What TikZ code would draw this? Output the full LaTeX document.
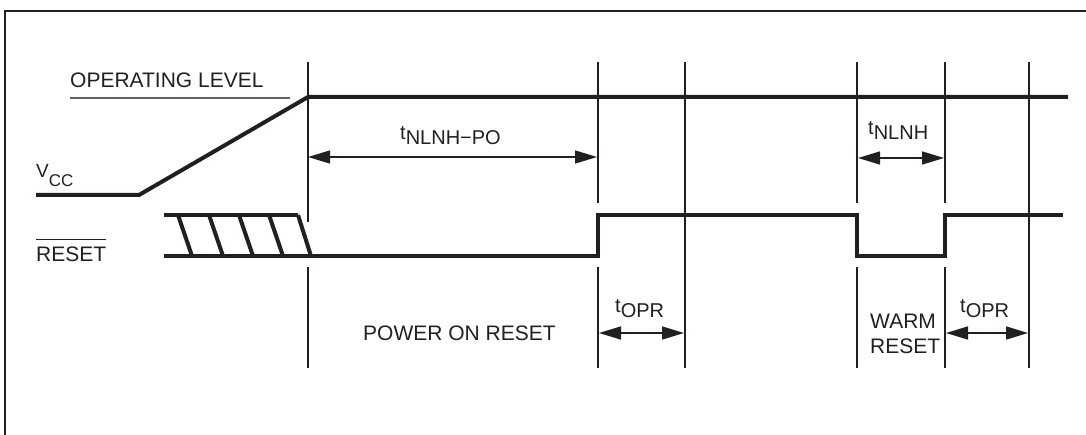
\documentclass[tikz,border=0pt]{standalone}
\usepackage{fontspec}
\setmainfont{Liberation Sans}
\usetikzlibrary{arrows.meta}
\definecolor{ink}{HTML}{231F20}
\newcommand{\tsub}[1]{\raisebox{5pt}{t}#1}
\newcommand{\ovl}[1]{{\setbox0\hbox{#1}\rlap{\rule[22pt]{\wd0}{1.3pt}}\box0}}
\begin{document}
\begin{tikzpicture}[x=1pt,y=-1pt,
  sig/.style={line width=4pt,ink,line join=miter},
  tick/.style={line width=1.8pt,ink},
  frame/.style={line width=1.8pt,ink},
  gauge/.style={line width=1.5pt,ink!70},
  dim/.style={line width=1.6pt,ink,{Triangle[length=22pt,width=13pt]}-{Triangle[length=22pt,width=13pt]}},
  lbl/.style={inner sep=0pt,anchor=base west,text=ink,font=\fontsize{21}{25}\selectfont},
  tlbl/.style={lbl,font=\fontsize{20}{24}\selectfont}]
\useasboundingbox (0,0) rectangle (1086,435);
% frame
\draw[frame] (5,435) -- (5,11) -- (1086,11);
% time markers
\coordinate (p1t) at (308,62);  \coordinate (p1a) at (308,222); \coordinate (p1b) at (308,267); \coordinate (p1e) at (308,368);
\coordinate (p2t) at (598,62);  \coordinate (p2a) at (598,203); \coordinate (p2b) at (598,267); \coordinate (p2e) at (598,368);
\coordinate (p3t) at (685,62);  \coordinate (p3e) at (685,368);
\coordinate (p4t) at (857,62);  \coordinate (p4a) at (857,203); \coordinate (p4b) at (857,267); \coordinate (p4e) at (857,368);
\coordinate (p5t) at (945,62);  \coordinate (p5a) at (945,203); \coordinate (p5b) at (945,267); \coordinate (p5e) at (945,368);
\coordinate (p6t) at (1029,62); \coordinate (p6e) at (1029,368);
\draw[tick] (p1t) -- (p1a) (p1b) -- (p1e);
\draw[tick] (p2t) -- (p2a) (p2b) -- (p2e);
\draw[tick] (p3t) -- (p3e);
\draw[tick] (p4t) -- (p4a) (p4b) -- (p4e);
\draw[tick] (p5t) -- (p5a) (p5b) -- (p5e);
\draw[tick] (p6t) -- (p6e);
% operating level
\node[lbl] (oplvl) at (70,88) {OPERATING LEVEL};
\draw[gauge] (70,98) -- (290,98);
% VCC
\node[lbl,font=\fontsize{19}{22}\selectfont] (vcc) at (36,178) {V\raisebox{-9pt}{\fontsize{17}{20}\selectfont CC}};
\draw[sig] (36,195) -- (139,195) -- (308,97) -- (1068,97);
% RESET
\node[lbl] (rst) at (36,262) {\ovl{RESET}};
\draw[sig] (164,215) -- (298,215);
\draw[sig] (178,215) -- (192,256) (209,215) -- (223,256) (239,215) -- (253,256) (269,215) -- (283,256) (298,215) -- (311,256);
\draw[sig] (164,256) -- (598,256) -- (598,215) -- (857,215) -- (857,256) -- (945,256) -- (945,215) -- (1063,215);
% dimensions
\coordinate (d1a) at (308,157); \coordinate (d1b) at (597,157);
\draw[dim,line width=1.3pt] (d1a) -- (d1b);
\node[tlbl] (tpo) at (400,145) {\tsub{NLNH−PO}};
\coordinate (d2a) at (858,158); \coordinate (d2b) at (944,158);
\draw[dim] (d2a) -- (d2b);
\node[tlbl] (tnl) at (868,140) {\tsub{NLNH}};
\coordinate (d3a) at (599,333); \coordinate (d3b) at (684,333);
\draw[dim] (d3a) -- (d3b);
\node[tlbl] (to1) at (615,317) {\tsub{OPR}};
\coordinate (d4a) at (946,333); \coordinate (d4b) at (1028,333);
\draw[dim] (d4a) -- (d4b);
\node[tlbl] (to2) at (960,317) {\tsub{OPR}};
% phase labels
\node[lbl] (por) at (363,341) {POWER ON RESET};
\node[lbl] (warm) at (870,328) {WARM};
\node[lbl] (wrst) at (870,353) {RESET};
\end{tikzpicture}
\end{document}
